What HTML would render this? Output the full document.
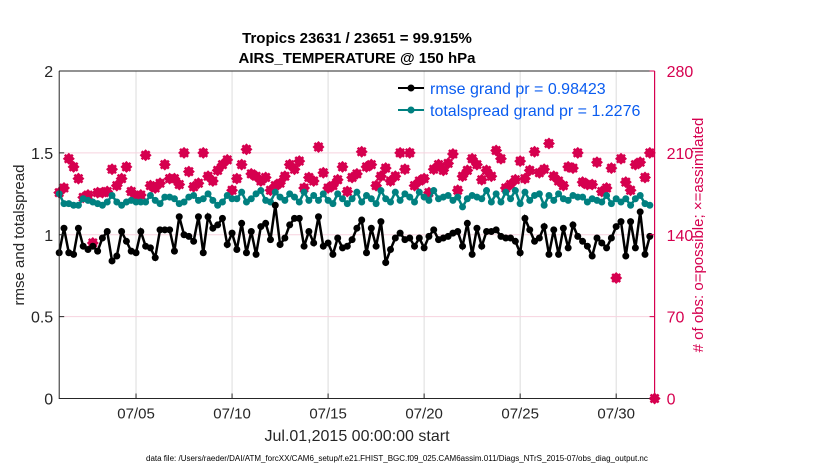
<!DOCTYPE html>
<html><head><meta charset="utf-8"><style>
body{margin:0;background:#fff;}
svg{display:block;font-family:"Liberation Sans",Arial,sans-serif;}
</style></head><body>
<svg id="chart" width="830" height="470" xmlns="http://www.w3.org/2000/svg">
<g id="grid"></g><g id="marks"></g><g id="axes"></g>
</svg>
<script>
const tickDays=[4,9,14,19,24,29];
const tickLabels=["07/05","07/10","07/15","07/20","07/25","07/30"];
const leftTicks=[0,0.5,1,1.5,2];
const leftTickLabels=["0","0.5","1","1.5","2"];
const rightTicks=[0,70,140,210,280];
const rmse=[0.89,1.04,0.89,0.88,1.04,0.93,0.91,0.93,0.90,0.98,1.02,0.84,0.87,1.02,0.96,0.90,0.89,1.02,0.93,0.92,0.86,1.03,1.03,1.03,0.90,1.11,1.00,0.99,0.96,1.11,0.89,1.11,1.04,1.06,1.10,0.94,1.01,0.91,1.07,0.89,1.02,0.88,1.05,1.07,0.97,1.18,0.94,0.98,1.06,1.10,1.10,0.93,1.02,0.95,1.11,0.93,0.95,0.88,0.98,0.92,0.93,0.97,1.04,1.09,0.89,1.04,0.93,1.08,0.83,0.91,0.98,1.01,0.97,0.98,0.93,0.98,0.92,0.99,1.03,0.97,0.98,0.99,1.01,1.02,0.93,1.07,0.88,1.04,0.93,1.02,1.02,1.03,0.99,0.98,0.98,0.96,0.89,1.10,1.03,0.96,0.98,1.05,0.88,1.03,0.88,1.04,0.92,1.06,0.99,0.96,0.93,0.87,0.98,0.95,0.92,0.98,1.05,1.08,0.87,1.08,0.92,1.14,0.88,0.99];
const spread=[1.25,1.19,1.19,1.18,1.18,1.22,1.21,1.20,1.19,1.18,1.20,1.24,1.20,1.18,1.20,1.21,1.20,1.20,1.20,1.24,1.21,1.19,1.23,1.23,1.22,1.19,1.20,1.23,1.24,1.21,1.22,1.25,1.21,1.18,1.20,1.24,1.22,1.22,1.26,1.20,1.22,1.25,1.27,1.21,1.20,1.26,1.23,1.21,1.25,1.23,1.20,1.26,1.21,1.24,1.21,1.25,1.21,1.19,1.25,1.22,1.19,1.22,1.26,1.20,1.24,1.22,1.19,1.27,1.22,1.20,1.26,1.21,1.25,1.23,1.20,1.26,1.23,1.21,1.27,1.22,1.23,1.24,1.21,1.23,1.17,1.22,1.24,1.23,1.22,1.27,1.20,1.25,1.20,1.26,1.22,1.27,1.19,1.26,1.21,1.24,1.25,1.18,1.24,1.21,1.25,1.22,1.21,1.24,1.23,1.23,1.20,1.22,1.21,1.20,1.24,1.19,1.22,1.20,1.22,1.18,1.22,1.24,1.19,1.18];
const nobs=[176,180,205,198,188,172,174,133,176,176,177,196,182,188,198,177,172,174,208,182,180,184,200,188,188,183,210,194,181,184,210,190,186,195,200,204,178,188,200,213,192,190,186,189,178,182,184,190,200,196,203,180,189,186,215,193,180,182,187,198,177,189,192,211,198,200,182,190,197,186,190,210,196,210,182,186,188,176,196,200,195,201,209,178,190,195,205,200,187,195,190,212,205,180,183,187,203,188,195,211,193,196,218,190,186,182,198,197,210,185,183,183,202,177,180,197,103,205,185,178,200,202,189,210,0];
const X0=59.2,X1=654.6,Y0=398.5,Y1=71;
const xs=d=>X0+(X1-X0)*d/31;
const yl=v=>Y0-(Y0-Y1)*v/2;
const yr=v=>Y0-(Y0-Y1)*v/280;
const NS="http://www.w3.org/2000/svg";
function mk(tag,parent,attrs){const e=document.createElementNS(NS,tag);for(const k in attrs)e.setAttribute(k,attrs[k]);parent.appendChild(e);return e;}
const grid=document.getElementById('grid'),marks=document.getElementById('marks'),axes=document.getElementById('axes');
tickDays.forEach(d=>{const l=mk('line',grid,{x1:xs(d),x2:xs(d),y1:Y1,y2:Y0,stroke:'#dcdcdc','stroke-width':1});

});
rightTicks.forEach(v=>{if(v===0||v===280)return;const l=mk('line',grid,{x1:X0,x2:X1,y1:yr(v),y2:yr(v),stroke:'#f7d3df','stroke-width':1});

});
const red='#d6004f';
nobs.forEach((v,i)=>{const g=mk('g',marks,{transform:`translate(${xs(i/4)},${yr(v)})`});


mk('path',g,{d:'M0,-6 L6,0 L0,6 L-6,0Z',fill:red});
mk('path',g,{d:'M-4,-4L4,4M-4,4L4,-4',stroke:red,'stroke-width':2.5});});
function series(arr,color,name){
 const p=mk('polyline',marks,{points:arr.map((v,i)=>xs(i/4)+','+yl(v)).join(' '),fill:'none',stroke:color,'stroke-width':2.5});
 
 
 arr.forEach((v,i)=>{const c=mk('circle',marks,{cx:xs(i/4),cy:yl(v),r:3.5,fill:color});
 
 });
}
series(spread,'#008080','totalspread');
series(rmse,'#000000','rmse');
const frame=mk('path',axes,{d:`M${X0},${Y1}V${Y0}H${X1}`,fill:'none',stroke:'#262626','stroke-width':1});


const topl=mk('line',axes,{x1:X0,x2:X1,y1:Y1,y2:Y1,stroke:'#262626','stroke-width':1});


const ra=mk('line',axes,{x1:X1,x2:X1,y1:Y1,y2:Y0,stroke:red,'stroke-width':1.2});


tickDays.forEach((d,i)=>{mk('line',axes,{x1:xs(d),x2:xs(d),y1:Y0,y2:Y0-5,stroke:'#262626'});
const t=mk('text',axes,{x:xs(d),y:Y0+20,'text-anchor':'middle','font-size':15,fill:'#262626'});t.textContent=tickLabels[i];

});
leftTicks.forEach((v,i)=>{mk('line',axes,{x1:X0,x2:X0+5,y1:yl(v),y2:yl(v),stroke:'#262626'});
const t=mk('text',axes,{x:X0-6,y:yl(v)+6,'text-anchor':'end','font-size':16,fill:'#262626'});t.textContent=leftTickLabels[i];

});
rightTicks.forEach(v=>{mk('line',axes,{x1:X1,x2:X1-5,y1:yr(v),y2:yr(v),stroke:red});
const t=mk('text',axes,{x:X1+12,y:yr(v)+6,'font-size':16,fill:red});t.textContent=String(v);

});
</script>
<svg style="position:absolute;left:0;top:0" width="830" height="470" xmlns="http://www.w3.org/2000/svg" font-family="Liberation Sans, Arial, sans-serif">
<text x="357" y="43" text-anchor="middle" font-size="15" font-weight="bold" fill="#000">Tropics 23631 / 23651 = 99.915%</text>
<text x="357" y="63" text-anchor="middle" font-size="15" font-weight="bold" fill="#000">AIRS_TEMPERATURE @ 150 hPa</text>
<text x="357" y="441" text-anchor="middle" font-size="16" fill="#262626">Jul.01,2015 00:00:00 start</text>
<text transform="translate(24,235) rotate(-90)" text-anchor="middle" font-size="15" fill="#262626">rmse and totalspread</text>
<text transform="translate(703,235) rotate(-90)" text-anchor="middle" font-size="15" fill="#d6004f"># of obs: o=possible; ×=assimilated</text>
<text x="146" y="461" font-size="8" fill="#000">data file: /Users/raeder/DAI/ATM_forcXX/CAM6_setup/f.e21.FHIST_BGC.f09_025.CAM6assim.011/Diags_NTrS_2015-07/obs_diag_output.nc</text>
<g>
<line x1="398" y1="88" x2="424" y2="88" stroke="#000" stroke-width="2"/><circle cx="411" cy="88" r="3.5" fill="#000"/>
<text x="430" y="94" font-size="16" fill="#0a5cf0">rmse grand pr = 0.98423</text>
<line x1="398" y1="110" x2="424" y2="110" stroke="#008080" stroke-width="2"/><circle cx="411" cy="110" r="3.5" fill="#008080"/>
<text x="430" y="116" font-size="16" fill="#0a5cf0">totalspread grand pr = 1.2276</text>
</g>
</svg>
</body></html>
